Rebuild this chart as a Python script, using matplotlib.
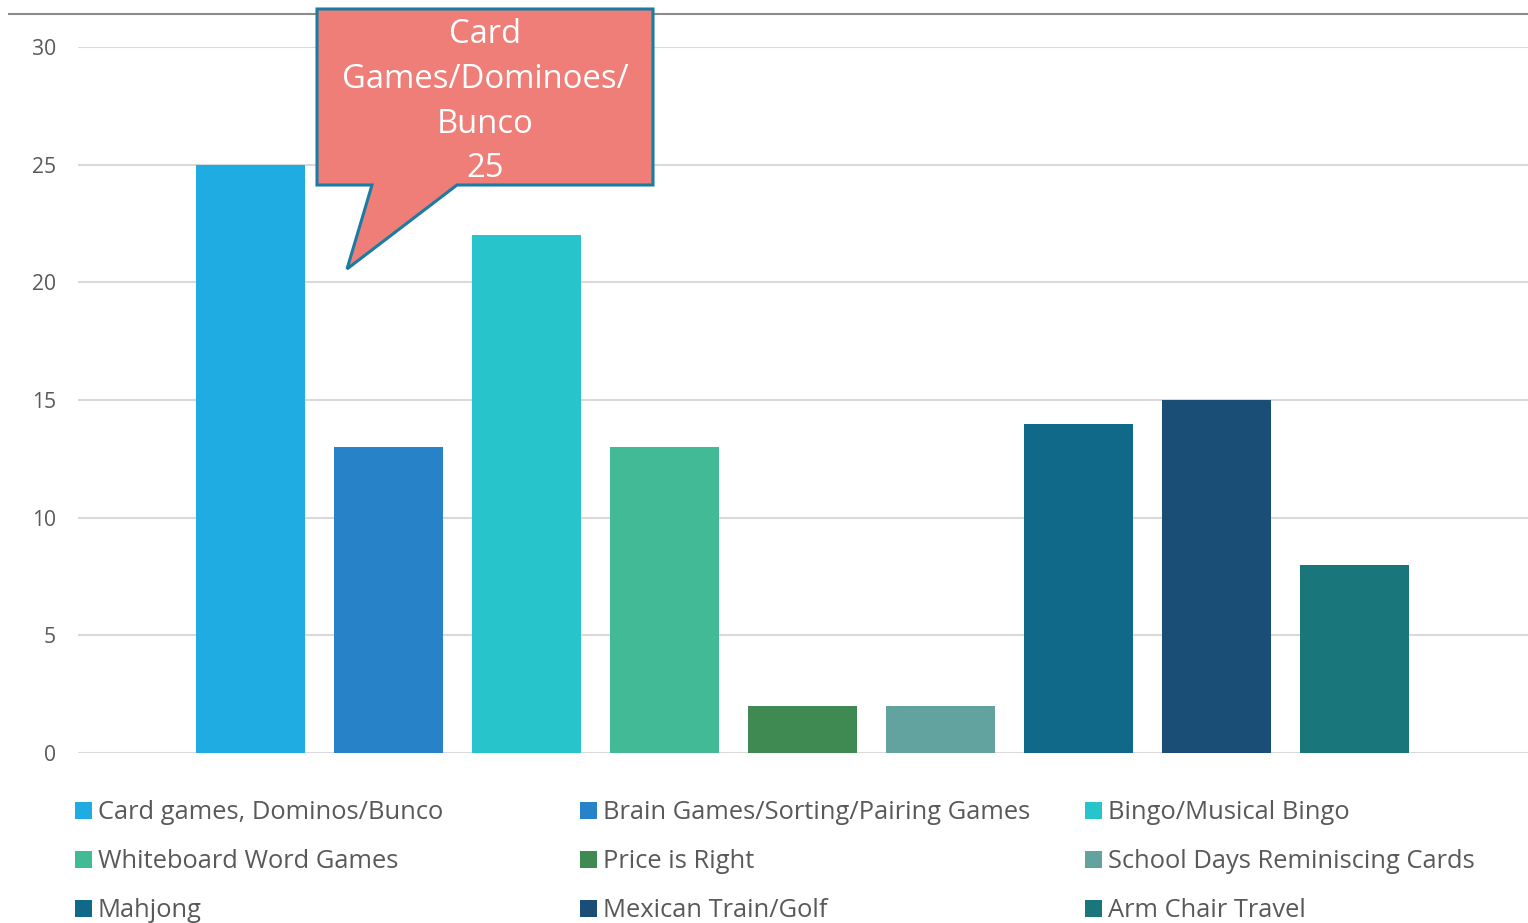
import matplotlib
matplotlib.use("Agg")
import matplotlib.pyplot as plt
from matplotlib.patches import Polygon, Rectangle
from matplotlib.transforms import Affine2D
from matplotlib.lines import Line2D

categories = ["Card games, Dominos/Bunco", "Brain Games/Sorting/Pairing Games",
              "Bingo/Musical Bingo", "Whiteboard Word Games", "Price is Right",
              "School Days Reminiscing Cards", "Mahjong", "Mexican Train/Golf",
              "Arm Chair Travel"]
values = [25, 13, 22, 13, 2, 2, 14, 15, 8]
colors = ["#1EACE3", "#2882C8", "#27C4CB", "#43BA96", "#3E8A52",
          "#62A3A0", "#11698A", "#1B4E76", "#19767A"]
yticks = [0, 5, 10, 15, 20, 25, 30]
callout_lines = ["Card", "Games/Dominoes/", "Bunco", "25"]

FONT = "Open Sans"
plt.rcParams['font.family'] = [FONT, 'DejaVu Sans']

W, H = 1528, 923
fig = plt.figure(figsize=(W / 100, H / 100), dpi=100)
# pixel transform (origin top-left)
px = Affine2D().scale(1, -1).translate(0, H)

ax = fig.add_axes([78 / W, 1 - 753 / H, (W - 78) / W, (753 - 47) / H])
x = list(range(len(values)))
ax.bar(x, values, width=0.79, color=colors, zorder=2)
ax.set_xlim(-1.25, 9.257)
ax.set_ylim(0, 30)
ax.set_yticks(yticks)
ax.set_yticklabels([str(t) for t in yticks], fontsize=15.2, color="#595959")
ax.tick_params(axis='y', length=0, pad=16)
ax.set_xticks([])
for s in ax.spines.values():
    s.set_visible(False)
ax.grid(axis='y', color="#D9D9D9", linewidth=1.5, zorder=0)
ax.set_axisbelow(True)

# top border line
fig.add_artist(Line2D([9, W], [14, 14], transform=px, color="#8C8C8C", linewidth=1.5))

# callout
verts = [(317, 9), (653, 9), (653, 185), (457, 185), (347, 269), (372, 185), (317, 185)]
fig.add_artist(Polygon(verts, closed=True, transform=px, facecolor="#EE7E77",
                       edgecolor="#1A7CA3", linewidth=2.2, zorder=5))
for line, yb in zip(callout_lines, [43, 88, 133, 177]):
    fig.text(485, yb, line, transform=px, ha='center', va='baseline',
             fontsize=23.6, color="white", zorder=6)

# legend
col_sq = [75, 580, 1085]
col_tx = [98, 603, 1108]
row_base = [819, 868, 917]
for i, (cat, c) in enumerate(zip(categories, colors)):
    r, k = divmod(i, 3)
    fig.add_artist(Rectangle((col_sq[k], row_base[r] - 17), 17, 17, transform=px,
                             facecolor=c, edgecolor='none'))
    fig.text(col_tx[k], row_base[r], cat, transform=px, ha='left', va='baseline',
             fontsize=18.4, color="#595959")

fig.savefig("out.png", dpi=100)
